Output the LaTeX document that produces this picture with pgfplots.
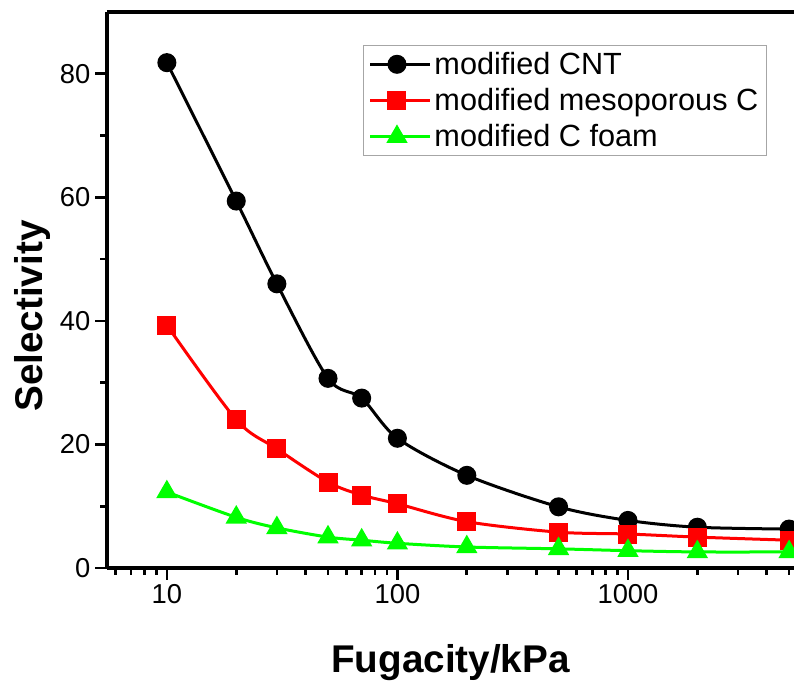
\documentclass[border=0pt]{standalone}
\usepackage{pgfplots}
\pgfplotsset{compat=1.18}
\usepackage{fontspec}
\setmainfont{Liberation Sans}
\usetikzlibrary{calc}
\definecolor{cred}{RGB}{255,0,0}
\definecolor{cgreen}{RGB}{0,255,0}
\begin{document}
\begin{tikzpicture}
\begin{axis}[name=ax, scale only axis, width=515.25pt, height=417pt,
  xmode=log, xmin=5.5, xmax=5250, ymin=0, ymax=90,
  axis x line*=box, axis y line*=left,
  axis line style={line width=3pt},
  xtick={10,100,1000}, xticklabels={10,100,1000},
  minor xtick={6,7,8,9,20,30,40,50,60,70,80,90,200,300,400,500,600,700,800,900,2000,3000,4000,5000},
  ytick={0,20,40,60,80}, minor ytick={10,30,50,70},
  xtick pos=left, ytick pos=left,
  tick align=outside,
  major tick length=9pt, minor tick length=5pt,
  every tick/.style={black, line width=2pt},
  /pgf/number format/assume math mode=true,
  ticklabel style={font=\fontsize{20.5}{24}\selectfont},
  xlabel={Fugacity/kPa}, ylabel={Selectivity},
  label style={font=\fontsize{29}{34}\selectfont\bfseries},
  xlabel style={at={(axis description cs:0.5,-0.1888)}, anchor=base},
  ylabel style={at={(axis description cs:-0.0946,0.453)}, anchor=base},
  legend style={at={(axis description cs:0.3726,0.9406)}, anchor=north west,
    draw=black!35, line width=0.75pt, font=\fontsize{23}{27}\selectfont,
    inner xsep=4pt, inner ysep=3pt, row sep=5pt},
  legend cell align=left,
  legend image code/.code={\draw[mark repeat=2, mark phase=2, #1] plot coordinates {(0pt,0pt) (20pt,0pt) (45pt,0pt)};},
]
\addplot[black, line width=2.25pt, smooth, mark=*, mark size=6pt, mark options={solid, fill=black}]
  coordinates {(10,81.8) (20,59.4) (30,46.0) (50,30.7) (70,27.5) (100,21.0) (200,15.0) (500,9.9) (1000,7.7) (2000,6.6) (5000,6.3)};
\addlegendentry{modified CNT}
\addplot[cred, line width=2.25pt, smooth, mark=square*, mark size=6pt, mark options={solid, fill=cred}]
  coordinates {(10,39.3) (20,24.0) (30,19.3) (50,13.9) (70,11.8) (100,10.4) (200,7.5) (500,5.8) (1000,5.5) (2000,5.0) (5000,4.5)};
\addlegendentry{modified mesoporous C}
\addplot[cgreen, line width=2.25pt, smooth, mark=triangle*, mark size=7pt, mark options={solid, fill=cgreen}]
  coordinates {(10,12.3) (20,8.2) (30,6.5) (50,5.0) (70,4.5) (100,4.0) (200,3.4) (500,3.1) (1000,2.8) (2000,2.6) (5000,2.6)};
\addlegendentry{modified C foam}
\end{axis}
\pgfresetboundingbox
\path ($(ax.south west)+(-80.25pt,-87.75pt)$) rectangle ($(ax.north east)+(0pt,9pt)$);
\end{tikzpicture}
\end{document}
